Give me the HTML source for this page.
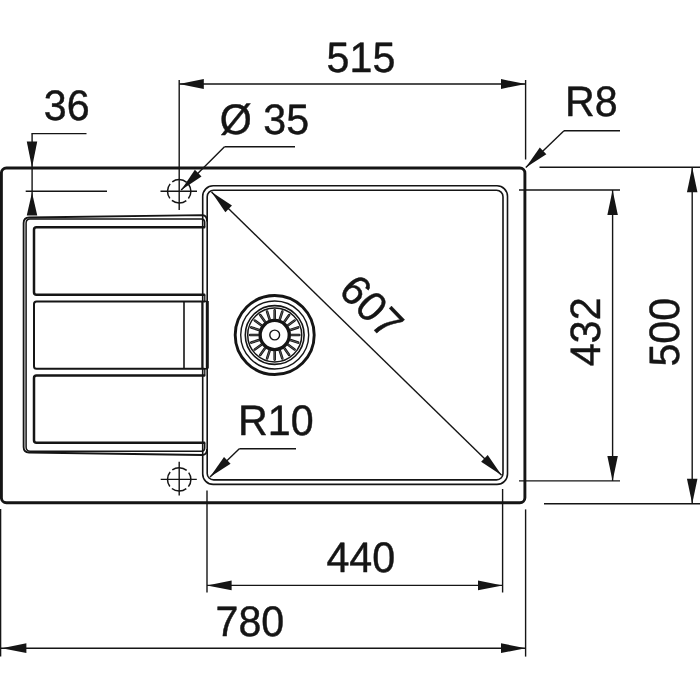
<!DOCTYPE html>
<html><head><meta charset="utf-8"><title>Sink dimensions</title>
<style>
html,body{margin:0;padding:0;background:#fff;overflow:hidden}
svg{display:block;will-change:transform}
text{font-family:"Liberation Sans",sans-serif;fill:#151515;stroke:#151515;stroke-width:0.45px;stroke-linejoin:round;text-rendering:geometricPrecision}
</style></head>
<body>
<svg width="700" height="700" viewBox="0 0 700 700">
<rect x="0" y="0" width="700" height="700" fill="#ffffff"/>
<rect x="1.4" y="168.0" width="523.5" height="334.75" rx="5" ry="5" fill="none" stroke="#151515" stroke-width="2.9"/>
<rect x="202.7" y="185.8" width="304.8" height="298.59999999999997" rx="10.5" ry="10.5" fill="none" stroke="#151515" stroke-width="1.6"/>
<rect x="207.2" y="190.2" width="295.8" height="289.7" rx="6.5" ry="6.5" fill="none" stroke="#151515" stroke-width="1.6"/>
<path d="M207.1,221.5 Q207,215.4 202.5,215.1 L29,217.5 Q23.6,217.7 23.6,223 L23.6,447 Q23.6,452.3 29,452.5 L202.5,455 Q207,454.6 207.1,449" fill="none" stroke="#151515" stroke-width="1.8"/>
<path d="M204.7,227 L204.7,222 Q204.6,219 201.5,218.9 L30,218.9 Q26.1,219 26.1,223 L26.1,447 Q26.1,451 30,451.2 L201.5,451.3 Q204.6,451.2 204.7,448 L204.7,443" fill="none" stroke="#151515" stroke-width="1.5"/>
<line x1="204.8" y1="295" x2="204.8" y2="301" stroke="#151515" stroke-width="1.3" />
<line x1="204.8" y1="369" x2="204.8" y2="375.5" stroke="#151515" stroke-width="1.3" />
<path d="M204.2,227.2 L36.5,227.2 Q34,227.2 34,229.7 L34,292.3 Q34,294.8 36.5,294.8 L204.2,294.8" fill="none" stroke="#151515" stroke-width="2.5" stroke-linecap="round"/>
<path d="M204.2,301.4 L36.5,301.4 Q34,301.4 34,303.9 L34,366.3 Q34,368.8 36.5,368.8 L204.2,368.8" fill="none" stroke="#151515" stroke-width="2.0" stroke-linecap="round"/>
<path d="M204.2,375.5 L36.5,375.5 Q34,375.5 34,378.0 L34,440.2 Q34,442.7 36.5,442.7 L204.2,442.7" fill="none" stroke="#151515" stroke-width="2.5" stroke-linecap="round"/>
<line x1="204" y1="301.4" x2="208" y2="301.4" stroke="#151515" stroke-width="1.6" />
<line x1="204" y1="368.8" x2="208" y2="368.8" stroke="#151515" stroke-width="1.6" />
<line x1="184" y1="301.4" x2="184" y2="368.6" stroke="#151515" stroke-width="1.6" />
<line x1="202.2" y1="301.4" x2="202.2" y2="368.6" stroke="#151515" stroke-width="1.8" />
<line x1="207.3" y1="301" x2="207.3" y2="368.5" stroke="#151515" stroke-width="3.0" />
<circle cx="179.2" cy="191.3" r="11.7" fill="none" stroke="#151515" stroke-width="1.5" stroke-dasharray="15.5 2.88" stroke-dashoffset="7.75"/>
<circle cx="179.2" cy="479.4" r="11.7" fill="none" stroke="#151515" stroke-width="1.5" stroke-dasharray="15.5 2.88" stroke-dashoffset="7.75"/>
<line x1="160.5" y1="191.3" x2="197" y2="191.3" stroke="#151515" stroke-width="1.4" />
<line x1="160.7" y1="479.4" x2="196.8" y2="479.4" stroke="#151515" stroke-width="1.4" />
<line x1="179.2" y1="461.8" x2="179.2" y2="495.4" stroke="#151515" stroke-width="1.4" />
<circle cx="274.7" cy="335.0" r="39.5" fill="none" stroke="#151515" stroke-width="2.9"/>
<circle cx="274.7" cy="335.0" r="34" fill="none" stroke="#151515" stroke-width="1.4"/>
<circle cx="274.7" cy="335.0" r="29.4" fill="none" stroke="#151515" stroke-width="1.6"/>
<circle cx="274.7" cy="335.0" r="27.0" fill="none" stroke="#151515" stroke-width="1.5"/>
<circle cx="274.7" cy="335.0" r="14.6" fill="none" stroke="#151515" stroke-width="3.4"/>
<circle cx="274.7" cy="335.0" r="4.9" fill="none" stroke="#151515" stroke-width="1.4"/>
<line x1="274.70" y1="318.50" x2="274.70" y2="310.40" stroke="#151515" stroke-width="2.6" stroke-linecap="round"/>
<line x1="274.70" y1="318.50" x2="274.70" y2="310.40" stroke="#777" stroke-width="0.7" stroke-linecap="round"/>
<line x1="279.80" y1="319.31" x2="282.30" y2="311.60" stroke="#151515" stroke-width="2.6" stroke-linecap="round"/>
<line x1="279.80" y1="319.31" x2="282.30" y2="311.60" stroke="#777" stroke-width="0.7" stroke-linecap="round"/>
<line x1="284.40" y1="321.65" x2="289.16" y2="315.10" stroke="#151515" stroke-width="2.6" stroke-linecap="round"/>
<line x1="284.40" y1="321.65" x2="289.16" y2="315.10" stroke="#777" stroke-width="0.7" stroke-linecap="round"/>
<line x1="288.05" y1="325.30" x2="294.60" y2="320.54" stroke="#151515" stroke-width="2.6" stroke-linecap="round"/>
<line x1="288.05" y1="325.30" x2="294.60" y2="320.54" stroke="#777" stroke-width="0.7" stroke-linecap="round"/>
<line x1="290.39" y1="329.90" x2="298.10" y2="327.40" stroke="#151515" stroke-width="2.6" stroke-linecap="round"/>
<line x1="290.39" y1="329.90" x2="298.10" y2="327.40" stroke="#777" stroke-width="0.7" stroke-linecap="round"/>
<line x1="291.20" y1="335.00" x2="299.30" y2="335.00" stroke="#151515" stroke-width="2.6" stroke-linecap="round"/>
<line x1="291.20" y1="335.00" x2="299.30" y2="335.00" stroke="#777" stroke-width="0.7" stroke-linecap="round"/>
<line x1="290.39" y1="340.10" x2="298.10" y2="342.60" stroke="#151515" stroke-width="2.6" stroke-linecap="round"/>
<line x1="290.39" y1="340.10" x2="298.10" y2="342.60" stroke="#777" stroke-width="0.7" stroke-linecap="round"/>
<line x1="288.05" y1="344.70" x2="294.60" y2="349.46" stroke="#151515" stroke-width="2.6" stroke-linecap="round"/>
<line x1="288.05" y1="344.70" x2="294.60" y2="349.46" stroke="#777" stroke-width="0.7" stroke-linecap="round"/>
<line x1="284.40" y1="348.35" x2="289.16" y2="354.90" stroke="#151515" stroke-width="2.6" stroke-linecap="round"/>
<line x1="284.40" y1="348.35" x2="289.16" y2="354.90" stroke="#777" stroke-width="0.7" stroke-linecap="round"/>
<line x1="279.80" y1="350.69" x2="282.30" y2="358.40" stroke="#151515" stroke-width="2.6" stroke-linecap="round"/>
<line x1="279.80" y1="350.69" x2="282.30" y2="358.40" stroke="#777" stroke-width="0.7" stroke-linecap="round"/>
<line x1="274.70" y1="351.50" x2="274.70" y2="359.60" stroke="#151515" stroke-width="2.6" stroke-linecap="round"/>
<line x1="274.70" y1="351.50" x2="274.70" y2="359.60" stroke="#777" stroke-width="0.7" stroke-linecap="round"/>
<line x1="269.60" y1="350.69" x2="267.10" y2="358.40" stroke="#151515" stroke-width="2.6" stroke-linecap="round"/>
<line x1="269.60" y1="350.69" x2="267.10" y2="358.40" stroke="#777" stroke-width="0.7" stroke-linecap="round"/>
<line x1="265.00" y1="348.35" x2="260.24" y2="354.90" stroke="#151515" stroke-width="2.6" stroke-linecap="round"/>
<line x1="265.00" y1="348.35" x2="260.24" y2="354.90" stroke="#777" stroke-width="0.7" stroke-linecap="round"/>
<line x1="261.35" y1="344.70" x2="254.80" y2="349.46" stroke="#151515" stroke-width="2.6" stroke-linecap="round"/>
<line x1="261.35" y1="344.70" x2="254.80" y2="349.46" stroke="#777" stroke-width="0.7" stroke-linecap="round"/>
<line x1="259.01" y1="340.10" x2="251.30" y2="342.60" stroke="#151515" stroke-width="2.6" stroke-linecap="round"/>
<line x1="259.01" y1="340.10" x2="251.30" y2="342.60" stroke="#777" stroke-width="0.7" stroke-linecap="round"/>
<line x1="258.20" y1="335.00" x2="250.10" y2="335.00" stroke="#151515" stroke-width="2.6" stroke-linecap="round"/>
<line x1="258.20" y1="335.00" x2="250.10" y2="335.00" stroke="#777" stroke-width="0.7" stroke-linecap="round"/>
<line x1="259.01" y1="329.90" x2="251.30" y2="327.40" stroke="#151515" stroke-width="2.6" stroke-linecap="round"/>
<line x1="259.01" y1="329.90" x2="251.30" y2="327.40" stroke="#777" stroke-width="0.7" stroke-linecap="round"/>
<line x1="261.35" y1="325.30" x2="254.80" y2="320.54" stroke="#151515" stroke-width="2.6" stroke-linecap="round"/>
<line x1="261.35" y1="325.30" x2="254.80" y2="320.54" stroke="#777" stroke-width="0.7" stroke-linecap="round"/>
<line x1="265.00" y1="321.65" x2="260.24" y2="315.10" stroke="#151515" stroke-width="2.6" stroke-linecap="round"/>
<line x1="265.00" y1="321.65" x2="260.24" y2="315.10" stroke="#777" stroke-width="0.7" stroke-linecap="round"/>
<line x1="269.60" y1="319.31" x2="267.10" y2="311.60" stroke="#151515" stroke-width="2.6" stroke-linecap="round"/>
<line x1="269.60" y1="319.31" x2="267.10" y2="311.60" stroke="#777" stroke-width="0.7" stroke-linecap="round"/>
<line x1="179.2" y1="80" x2="179.2" y2="210" stroke="#151515" stroke-width="1.4" />
<line x1="525.6" y1="80" x2="525.6" y2="159.5" stroke="#151515" stroke-width="1.4" />
<line x1="179.2" y1="84" x2="525.6" y2="84" stroke="#151515" stroke-width="1.4" />
<polygon points="179.20,84.00 203.80,79.10 203.80,88.90" fill="#151515"/>
<polygon points="525.60,84.00 501.00,88.90 501.00,79.10" fill="#151515"/>
<text x="0" y="0" text-anchor="middle" font-size="42.5" transform="translate(361 71.6) scale(0.97 1)">515</text>
<line x1="31.5" y1="133.6" x2="86.5" y2="133.6" stroke="#151515" stroke-width="1.4" />
<line x1="32.1" y1="133.6" x2="32.1" y2="215" stroke="#151515" stroke-width="1.4" />
<polygon points="32.00,167.50 26.75,141.50 37.25,141.50" fill="#151515"/>
<polygon points="32.00,192.50 37.25,215.50 26.75,215.50" fill="#151515"/>
<line x1="25.7" y1="191.3" x2="107" y2="191.3" stroke="#151515" stroke-width="1.4" />
<text x="0" y="0" text-anchor="middle" font-size="42.5" transform="translate(66.7 120.3) scale(0.97 1)">36</text>
<line x1="224.5" y1="146.8" x2="295" y2="146.8" stroke="#151515" stroke-width="1.4" />
<line x1="224.5" y1="146.8" x2="181.2" y2="190" stroke="#151515" stroke-width="1.4" />
<polygon points="181.20,190.00 194.87,169.72 201.51,176.38" fill="#151515"/>
<text x="0" y="0" text-anchor="start" font-size="42.5" transform="translate(219.8 133.9) scale(0.97 1)">Ø 35</text>
<line x1="564" y1="130.8" x2="620" y2="130.8" stroke="#151515" stroke-width="1.4" />
<line x1="564" y1="130.8" x2="525.8" y2="167.6" stroke="#151515" stroke-width="1.4" />
<polygon points="525.80,167.60 539.82,147.56 546.35,154.33" fill="#151515"/>
<text x="0" y="0" text-anchor="start" font-size="42.5" transform="translate(565 115.9) scale(0.97 1)">R8</text>
<line x1="239.3" y1="448.8" x2="296" y2="448.8" stroke="#151515" stroke-width="1.4" />
<line x1="239.3" y1="448.8" x2="210" y2="477" stroke="#151515" stroke-width="1.4" />
<polygon points="210.00,477.00 224.03,456.97 230.55,463.74" fill="#151515"/>
<text x="0" y="0" text-anchor="start" font-size="42.5" transform="translate(238 434.6) scale(0.97 1)">R10</text>
<line x1="211.5" y1="192.1" x2="501.6" y2="475.2" stroke="#151515" stroke-width="1.4" />
<polygon points="211.50,192.10 231.96,205.50 225.39,212.23" fill="#151515"/>
<polygon points="501.60,475.20 481.14,461.80 487.71,455.07" fill="#151515"/>
<text x="0" y="0" text-anchor="middle" font-size="42.5" transform="translate(361.09 316.86) rotate(46) scale(0.97 1)">607</text>
<line x1="519" y1="190" x2="620" y2="190" stroke="#151515" stroke-width="1.4" />
<line x1="519" y1="480.9" x2="620" y2="480.9" stroke="#151515" stroke-width="1.4" />
<line x1="612.6" y1="190" x2="612.6" y2="480.9" stroke="#151515" stroke-width="1.4" />
<polygon points="612.60,190.00 617.85,215.00 607.35,215.00" fill="#151515"/>
<polygon points="612.60,480.90 607.35,455.90 617.85,455.90" fill="#151515"/>
<text x="0" y="0" text-anchor="middle" font-size="42.5" transform="translate(600.2 331.8) rotate(-90) scale(0.97 1)">432</text>
<line x1="539.5" y1="167.2" x2="700" y2="167.2" stroke="#151515" stroke-width="1.4" />
<line x1="544" y1="503.8" x2="700" y2="503.8" stroke="#151515" stroke-width="1.4" />
<line x1="692.2" y1="167.2" x2="692.2" y2="503.8" stroke="#151515" stroke-width="1.4" />
<polygon points="692.20,167.20 697.45,192.20 686.95,192.20" fill="#151515"/>
<polygon points="692.20,503.80 686.95,478.80 697.45,478.80" fill="#151515"/>
<text x="0" y="0" text-anchor="middle" font-size="42.5" transform="translate(679.2 332.2) rotate(-90) scale(0.97 1)">500</text>
<line x1="207" y1="490.6" x2="207" y2="592.5" stroke="#151515" stroke-width="1.4" />
<line x1="502.6" y1="489" x2="502.6" y2="592.5" stroke="#151515" stroke-width="1.4" />
<line x1="207" y1="585.4" x2="502.6" y2="585.4" stroke="#151515" stroke-width="1.4" />
<polygon points="207.00,585.40 231.60,580.50 231.60,590.30" fill="#151515"/>
<polygon points="502.60,585.40 478.00,590.30 478.00,580.50" fill="#151515"/>
<text x="0" y="0" text-anchor="middle" font-size="42.5" transform="translate(360.8 571.8) scale(0.97 1)">440</text>
<line x1="0.6" y1="509" x2="0.6" y2="656.6" stroke="#151515" stroke-width="1.4" />
<line x1="525.6" y1="509.4" x2="525.6" y2="656.6" stroke="#151515" stroke-width="1.4" />
<line x1="0.6" y1="648.2" x2="525.6" y2="648.2" stroke="#151515" stroke-width="1.4" />
<polygon points="1.80,648.20 26.40,643.30 26.40,653.10" fill="#151515"/>
<polygon points="525.60,648.20 501.00,653.10 501.00,643.30" fill="#151515"/>
<text x="0" y="0" text-anchor="middle" font-size="42.5" transform="translate(249.9 636.2) scale(0.97 1)">780</text>
</svg>
</body></html>
